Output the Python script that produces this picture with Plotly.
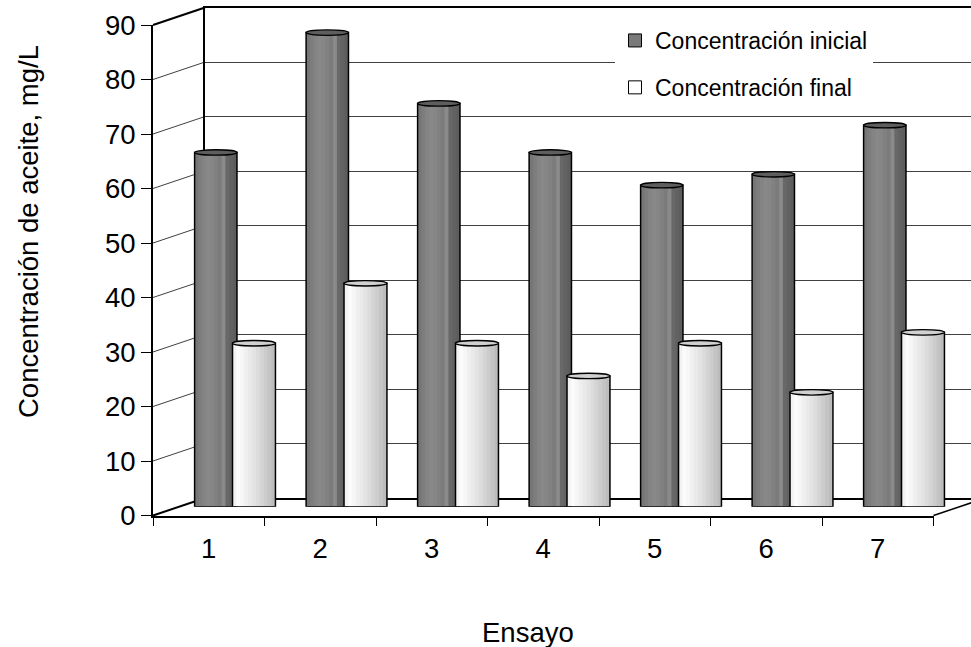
import plotly.graph_objects as go

# ---------------- data ----------------
ensayos = ["1", "2", "3", "4", "5", "6", "7"]
conc_inicial = [65, 87, 74, 65, 59, 61, 70]
conc_final = [30, 41, 30, 24, 30, 21, 32]
y_ticks = [0, 10, 20, 30, 40, 50, 60, 70, 80, 90]
serie_nombres = ["Concentración inicial", "Concentración final"]

# ---------------- layout constants (pixels) ----------------
W, H = 971, 647
FX0, FX1 = 153.0, 933.5      # front plane x extent
FY0, FY90 = 515.5, 25.0      # front plane y for 0 and 90
DX, DY = 52.0, -17.5         # depth offset (front -> back)
FONT = "Liberation Sans, Arial, sans-serif"
FS = 27.5


def px(x):
    return x / W


def py(y):
    return 1 - y / H


def yfront(v):
    return FY0 + (FY90 - FY0) * v / 90.0


xpos = list(range(1, len(ensayos) + 1))

fig = go.Figure()

# back wall subplot first (drawn beneath everything else)
fig.add_trace(go.Scatter(x=[None], y=[None], xaxis="x", yaxis="y",
                         showlegend=False, hoverinfo="skip"))
# front axes subplot
fig.add_trace(go.Scatter(x=[None], y=[None], xaxis="x2", yaxis="y2",
                         showlegend=False, hoverinfo="skip"))

series = [
    dict(vals=conc_inicial, a=-0.36, b=0.02,
         strips=['#767676', '#7d7d7d', '#848484', '#888888', '#868686', '#818181',
                 '#7b7b7b', '#8a8a8a', '#686868', '#626262', '#5d5d5d'],
         top='#5e5e5e', legend='#7a7a7a'),
    dict(vals=conc_final, a=-0.02, b=0.365,
         strips=['#f2f2f2', '#fbfbfb', '#f6f6f6', '#efefef', '#e9e9e9', '#e3e3e3',
                 '#dcdcdc', '#d4d4d4', '#cccccc', '#c4c4c4', '#bcbcbc'],
         top='#d0d0d0', legend='#ffffff'),
]

for s in series:
    n = len(s["strips"])
    w = (s["b"] - s["a"]) / n
    for i, col in enumerate(s["strips"]):
        off = s["a"] + i * w
        wid = min(w * 1.6, s["b"] - off)
        fig.add_trace(go.Bar(
            x=xpos, y=s["vals"], xaxis="x3", yaxis="y3",
            width=wid, offset=off,
            marker=dict(color=col, line=dict(width=0), opacity=1),
            showlegend=False, hoverinfo="skip"))
    fig.add_trace(go.Bar(
        x=xpos, y=s["vals"], xaxis="x3", yaxis="y3",
        width=s["b"] - s["a"], offset=s["a"],
        marker=dict(color="rgba(0,0,0,0)", line=dict(color="black", width=1.5)),
        showlegend=False, hoverinfo="skip"))

# legend entries
for name, s, g in zip(serie_nombres, series, ["a", "b"]):
    fig.add_trace(go.Scatter(
        x=[None], y=[None], mode="markers", name=name, legendgroup=g,
        marker=dict(symbol="square", size=13, color=s["legend"],
                    line=dict(color="black", width=1)),
        xaxis="x3", yaxis="y3"))

shapes = []
# cylinder tops
e = 0.5
for s in series:
    for xc, v in zip(xpos, s["vals"]):
        shapes.append(dict(type="circle", xref="x3", yref="y3",
                           x0=xc + s["a"], x1=xc + s["b"], y0=v - e, y1=v + e,
                           fillcolor=s["top"], line=dict(color="black", width=1.3),
                           layer="above"))

# side-wall diagonal gridlines
for v in y_ticks:
    edge = v in (y_ticks[0], y_ticks[-1])
    shapes.append(dict(type="line", xref="paper", yref="paper",
                       x0=px(FX0), y0=py(yfront(v)),
                       x1=px(FX0 + DX), y1=py(yfront(v) + DY),
                       line=dict(color="black" if edge else "#404040",
                                 width=2 if edge else 1),
                       layer="below"))
# floor right edge
shapes.append(dict(type="line", xref="paper", yref="paper",
                   x0=px(FX1), y0=py(FY0), x1=px(FX1 + DX), y1=py(FY0 + DY),
                   line=dict(color="black", width=1.5), layer="below"))

fig.update_layout(
    width=W, height=H,
    margin=dict(l=0, r=0, t=0, b=0, pad=0, autoexpand=False),
    paper_bgcolor="white", plot_bgcolor="rgba(0,0,0,0)",
    barmode="overlay",
    font=dict(family=FONT, color="black", size=FS),
    shapes=shapes,
    # back wall
    xaxis=dict(domain=[px(FX0 + DX), 1.0], range=[0, 1], anchor="y",
               showline=True, mirror=True, linecolor="black", linewidth=2,
               showgrid=False, zeroline=False, showticklabels=False, ticks="",
               automargin=False),
    yaxis=dict(domain=[py(FY0 + DY), py(FY90 + DY)], range=[0, 90], anchor="x",
               tickmode="array", tickvals=y_ticks,
               showline=True, linecolor="black", linewidth=2,
               showgrid=True, gridcolor="#404040", gridwidth=1,
               zeroline=False, showticklabels=False, ticks="", automargin=False),
    # front axes
    xaxis2=dict(domain=[px(FX0), px(FX1)], range=[0.5, 7.5], anchor="y2",
                tickmode="array", tickvals=xpos, ticktext=ensayos, ticks="",
                showline=True, linecolor="black", linewidth=1.5,
                showgrid=False, zeroline=False, ticklabelstandoff=8,
                tickfont=dict(size=FS), automargin=False,
                minor=dict(tickmode="array",
                           tickvals=[x - 0.5 for x in xpos] + [xpos[-1] + 0.5],
                           ticks="outside", ticklen=9, tickcolor="black", tickwidth=1,
                           showgrid=False)),
    yaxis2=dict(domain=[py(FY0), py(FY90)], range=[0, 90], anchor="x2",
                tickmode="array", tickvals=y_ticks,
                ticks="outside", ticklen=10, tickcolor="black", tickwidth=1,
                showline=True, linecolor="black", linewidth=2,
                showgrid=False, zeroline=False, tickfont=dict(size=FS),
                automargin=False),
    # bars plane (mid depth)
    xaxis3=dict(domain=[px(FX0 + DX / 2), px(FX1 + DX / 2)], range=[0.5, 7.5],
                visible=False, anchor="y3"),
    yaxis3=dict(domain=[py(FY0 + DY / 2), py(FY90 + DY / 2)], range=[0, 90],
                visible=False, anchor="x3"),
    legend=dict(x=px(615), y=py(19), xanchor="left", yanchor="top",
                bgcolor="white", borderwidth=0, font=dict(size=23),
                traceorder="grouped", tracegroupgap=14),
    annotations=[
        dict(text="Concentración de aceite, mg/L", xref="paper", yref="paper",
             x=px(29), y=py(232), textangle=-90, showarrow=False,
             font=dict(size=FS), xanchor="center", yanchor="middle"),
        dict(text="Ensayo", xref="paper", yref="paper",
             x=px(528), y=py(632), showarrow=False,
             font=dict(size=FS), xanchor="center", yanchor="middle"),
    ],
    showlegend=True,
)

fig.write_html("out.html")
